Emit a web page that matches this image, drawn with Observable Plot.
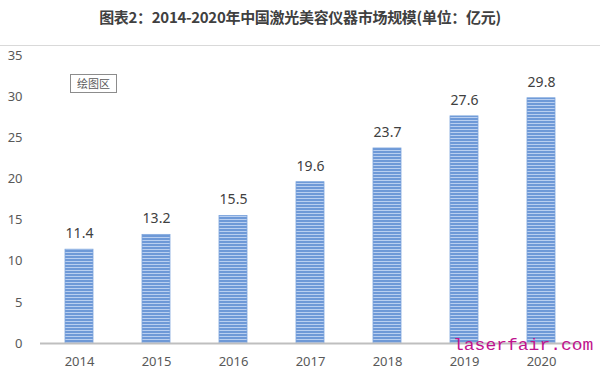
<!DOCTYPE html>
<html><head><meta charset="utf-8">
<script src="https://cdn.jsdelivr.net/npm/d3@7"></script>
<script src="https://cdn.jsdelivr.net/npm/@observablehq/plot@0.6"></script>
<style>
body{margin:0;background:#fff;font-family:"Noto Sans CJK SC","Noto Sans",sans-serif;}
#wrap{position:relative;width:600px;height:377px;overflow:hidden;}
#title{height:45px;border-bottom:1px solid #d9d9d9;text-align:center;font-weight:bold;font-size:15px;color:#404040;line-height:34px;letter-spacing:-0.3px;}
#box{position:absolute;left:70px;top:74px;width:45px;height:17px;border:1px solid #8c8c8c;font-size:11px;color:#595959;text-align:center;line-height:17px;}
#wm{position:absolute;left:453px;top:334px;font-family:"Liberation Mono","DejaVu Sans Mono",monospace;font-size:18px;line-height:20px;color:#c0138e;transform:scaleY(0.9);transform-origin:left bottom;white-space:nowrap;}
</style></head><body>
<div id="wrap">
<div id="title">图表2：2014-2020年中国激光美容仪器市场规模(单位：亿元)</div>
<div id="chart"></div>
<div id="box">绘图区</div>
<div id="wm">laserfair.com</div>
</div>
<script>
const years = ["2014","2015","2016","2017","2018","2019","2020"];
const values = [11.4, 13.2, 15.5, 19.6, 23.7, 27.6, 29.8];
const yTicks = [0,5,10,15,20,25,30,35];
const data = years.map((y,i)=>({year:y, value:values[i]}));

const plot = Plot.plot({
  width: 600, height: 331,
  marginTop: 9, marginBottom: 34, marginLeft: 40, marginRight: 20,
  style: {fontFamily: '"Noto Sans","DejaVu Sans",sans-serif', fontSize: "13px", color: "#595959", background: "transparent"},
  x: {domain: years, paddingInner: 0.64, paddingOuter: 0.32, label: null, tickSize: 0, tickPadding: 13},
  y: {domain: [0,35], ticks: yTicks, label: null, tickSize: 0, tickPadding: 18},
  marks: [
    Plot.barY(data, {x: "year", y: "value", fill: "url(#stripes)", stroke: "#7aa3dc", strokeWidth: 0.8}),
    Plot.ruleY([0], {stroke: "#bfbfbf", strokeWidth: 2}),
    Plot.text(data, {x: "year", y: "value", text: d => d.value.toFixed(1), dy: -16, fill: "#404040", fontSize: 14})
  ]
});
const svg = d3.select(plot);
const defs = svg.insert("defs", ":first-child");
const p = defs.append("pattern").attr("id","stripes").attr("patternUnits","userSpaceOnUse").attr("width",6).attr("height",3);
p.append("rect").attr("width",6).attr("height",3).attr("fill","#6e99d7");
p.append("rect").attr("y",2).attr("width",6).attr("height",1).attr("fill","#b9cff0");
document.getElementById("chart").appendChild(plot);
</script>
</body></html>
